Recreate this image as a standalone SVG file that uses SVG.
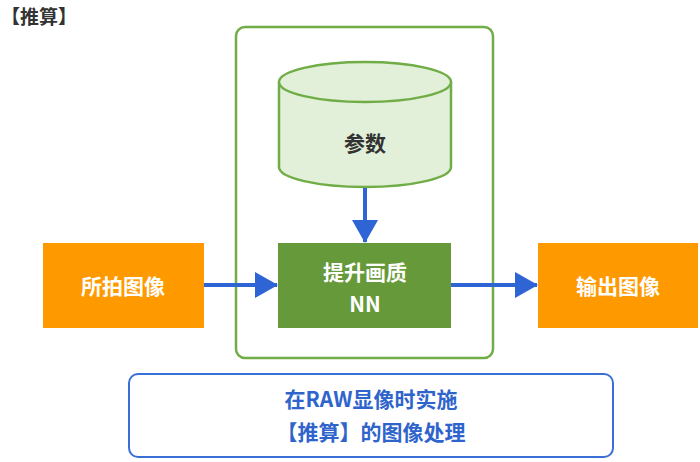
<svg xmlns="http://www.w3.org/2000/svg" width="700" height="462" viewBox="0 0 700 462">
<defs>
<style>
text{font-family:"Noto Sans CJK SC","Noto Sans CJK JP","Liberation Sans",sans-serif;font-weight:bold;text-anchor:middle;dominant-baseline:central}
.w{fill:#ffffff;font-size:21px}
.d{fill:#333333;font-size:21px}
.b{fill:#2f64cc;font-size:21px}
.orange{fill:#ff9900}
.conn{stroke:#2f64d4;stroke-width:4;fill:none}
</style>
<marker id="ah" markerWidth="24" markerHeight="26" refX="22" refY="13" markerUnits="userSpaceOnUse" orient="auto">
<path d="M0,0 L23,13 L0,26 Z" fill="#2f64d4"/>
</marker>
</defs>
<rect width="700" height="462" fill="#ffffff"/>
<text x="1" y="15" class="d" style="font-size:19px;text-anchor:start">【推算】</text>
<g id="container">
<rect x="236" y="27" width="257" height="331" rx="9" fill="none" stroke="#70ad47" stroke-width="2.5"/>
</g>
<g id="params">
<path d="M279,82 L279,167 A86,20 0 0 0 451,167 L451,82" fill="#e2f0d9" stroke="#70ad47" stroke-width="2.5"/>
<ellipse cx="365" cy="82" rx="86" ry="20" fill="#e2f0d9" stroke="#70ad47" stroke-width="2.5"/>
<text x="365" y="142" class="d">参数</text>
</g>
<g id="nn">
<rect x="278" y="243" width="173" height="85" fill="#66993a"/>
<text x="365" y="271" class="w">提升画质</text>
<text x="365" y="303" class="w">NN</text>
</g>
<g id="input">
<rect x="43" y="243" width="161" height="85" class="orange"/>
<text x="123" y="285" class="w">所拍图像</text>
</g>
<g id="output">
<rect x="538" y="243" width="160" height="85" class="orange"/>
<text x="618" y="285" class="w">输出图像</text>
</g>
<g id="note">
<rect x="129" y="374" width="484" height="83" rx="9" fill="#ffffff" stroke="#3a6fd8" stroke-width="2"/>
<text x="371" y="398" class="b">在RAW显像时实施</text>
<text x="371" y="431" class="b">【推算】的图像处理</text>
</g>
<g id="connectors">
<line x1="365" y1="188" x2="365" y2="242" class="conn" marker-end="url(#ah)"/>
<line x1="204" y1="285" x2="277" y2="285" class="conn" marker-end="url(#ah)"/>
<line x1="451" y1="285" x2="537" y2="285" class="conn" marker-end="url(#ah)"/>
</g>
</svg>
